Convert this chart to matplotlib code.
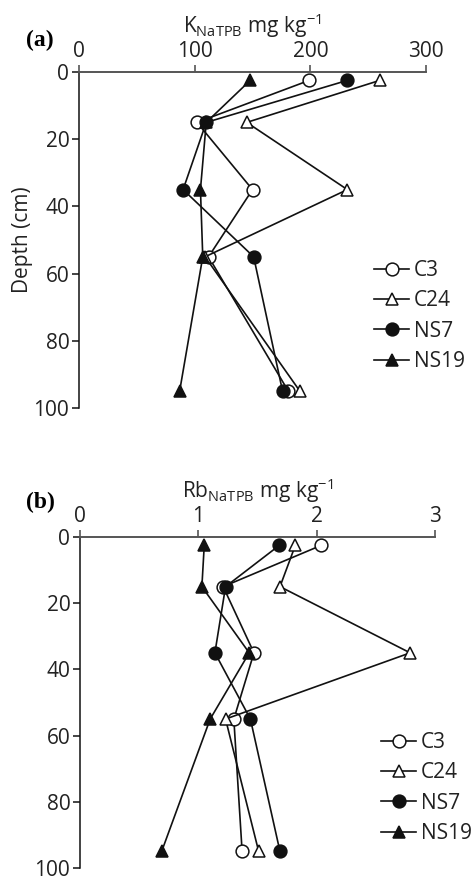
import matplotlib
matplotlib.use("Agg")
import matplotlib.pyplot as plt

plt.rcParams['font.family'] = ['Open Sans', 'DejaVu Sans']
plt.rcParams['mathtext.fontset'] = 'custom'
plt.rcParams['mathtext.rm'] = 'Open Sans'

depths = [2.5, 15, 35, 55, 95]
series_names = ["C3", "C24", "NS7", "NS19"]

k_c3 = [199, 102, 150, 112, 181]
k_c24 = [260, 145, 232, 109, 191]
k_ns7 = [232, 110, 90, 151, 176]
k_ns19 = [148, 110, 105, 107, 87]

rb_c3 = [2.04, 1.21, 1.47, 1.30, 1.37]
rb_c24 = [1.82, 1.69, 2.79, 1.23, 1.51]
rb_ns7 = [1.685, 1.23, 1.14, 1.44, 1.69]
rb_ns19 = [1.05, 1.03, 1.43, 1.10, 0.69]

k_xticks = [0, 100, 200, 300]
rb_xticks = [0, 1, 2, 3]
yticks = [0, 20, 40, 60, 80, 100]

styles = [
    dict(marker='o', mfc='white', mec='#111111'),
    dict(marker='^', mfc='white', mec='#111111'),
    dict(marker='o', mfc='#111111', mec='#111111'),
    dict(marker='^', mfc='#111111', mec='#111111'),
]

W, H = 472, 880
fig = plt.figure(figsize=(W / 100, H / 100), dpi=100)


def px_rect(l, r, t, b):
    return [l / W, 1 - b / H, (r - l) / W, (b - t) / H]


def draw_panel(rect, data, xticks, xlabel, tag, tag_xy, legend_xy):
    ax = fig.add_axes(px_rect(*rect))
    for vals, name, st in zip(data, series_names, styles):
        ax.plot(vals, depths, color='#111111', lw=1.2, ms=9.2,
                mew=1.1, label=name, clip_on=False, **st)
    ax.set_xlim(xticks[0], xticks[-1])
    ax.set_ylim(100, 0)
    ax.set_xticks(xticks)
    ax.set_yticks(yticks)
    ax.xaxis.tick_top()
    ax.xaxis.set_label_position('top')
    for s in ('bottom', 'right'):
        ax.spines[s].set_visible(False)
    ax.spines['top'].set_color('#555555')
    ax.spines['top'].set_linewidth(1.4)
    ax.spines['left'].set_color('#111111')
    ax.spines['left'].set_linewidth(1.1)
    ax.tick_params(axis='x', direction='out', length=5, width=1.2,
                   color='#555555', labelsize=15, pad=2, labelcolor='#222222')
    ax.tick_params(axis='y', direction='out', length=5, width=1.1,
                   color='#111111', labelsize=15, pad=2, labelcolor='#222222')
    ax.set_xlabel(xlabel, fontsize=15, labelpad=6, color='#222222')
    fig.text(tag_xy[0] / W, 1 - tag_xy[1] / H, tag, family='Liberation Serif',
             fontweight='bold', fontsize=17, ha='left', va='center')
    leg = ax.legend(loc='upper left',
                    bbox_to_anchor=(legend_xy[0] / W, 1 - legend_xy[1] / H),
                    bbox_transform=fig.transFigure, frameon=False,
                    fontsize=15, handlelength=1.7, handletextpad=0.2,
                    labelspacing=0.45, borderpad=0, borderaxespad=0)
    for t in leg.get_texts():
        t.set_color('#222222')
    return ax


ax_a = draw_panel((79, 426, 72, 408), [k_c3, k_c24, k_ns7, k_ns19], k_xticks,
                  r'K$_\mathregular{NaTPB}$ mg kg$^\mathregular{-1}$',
                  '(a)', (26, 40), (374, 260))
ax_a.set_ylabel('Depth (cm)', fontsize=15, color='#222222')
ax_a.yaxis.set_label_coords(-0.132, 0.5)

draw_panel((80, 435, 537, 868), [rb_c3, rb_c24, rb_ns7, rb_ns19], rb_xticks,
           r'Rb$_\mathregular{NaTPB}$ mg kg$^\mathregular{-1}$',
           '(b)', (26, 502), (381, 732))

fig.savefig('out.png', dpi=100)
